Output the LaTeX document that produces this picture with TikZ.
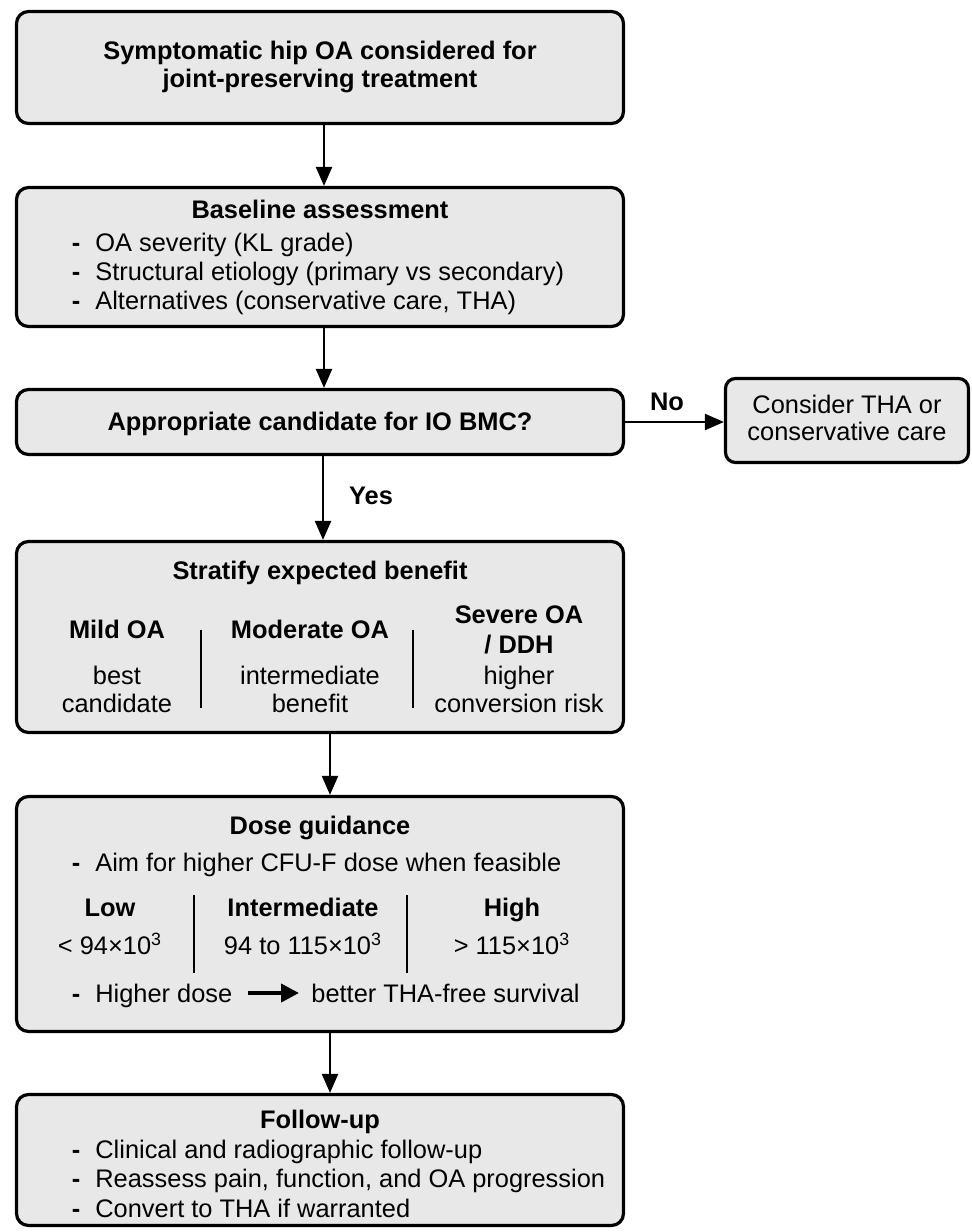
\documentclass[tikz,border=0pt]{standalone}
\usepackage{fontspec}
\setmainfont{Liberation Sans}
\usetikzlibrary{arrows.meta}
\definecolor{boxfill}{RGB}{232,232,232}
\newcommand\myfs{\fontsize{12.7pt}{15pt}\selectfont}
\begin{document}
\begin{tikzpicture}[x=0.5pt,y=-0.5pt,
  box/.style={draw, line width=1.6pt, rounded corners=6pt, fill=boxfill, inner sep=0},
  arr/.style={line width=1.15pt, -{Triangle[length=9.5pt,width=8pt]}},
  bigarr/.style={line width=2pt, -{Triangle[length=9pt,width=9pt]}},
  sepline/.style={line width=1.4pt},
  t/.style={inner sep=0, anchor=base, font=\myfs},
  tb/.style={inner sep=0, anchor=base, font=\myfs\bfseries},
  tl/.style={inner sep=0, anchor=base west, font=\myfs},
  bul/.style={inner sep=0, anchor=base, font=\myfs\bfseries}]
\fill[white] (0,0) rectangle (972,1232);
\useasboundingbox (0,0) rectangle (972,1232);

% boxes
\node[box, minimum width=303.5pt, minimum height=56pt] (b1) at (320,67.5) {};
\node[box, minimum width=303.5pt, minimum height=69.5pt] (b2) at (320,257) {};
\node[box, minimum width=303.5pt, minimum height=32.5pt] (b3) at (320,422) {};
\node[box, rounded corners=5pt, minimum width=121.5pt, minimum height=42pt] (b4) at (847,420.5) {};
\node[box, minimum width=303.5pt, minimum height=95.5pt] (b5) at (320,637) {};
\node[box, minimum width=303.5pt, minimum height=117.5pt] (b6) at (320,914) {};
\node[box, minimum width=303.5pt, minimum height=65.5pt] (b7) at (320,1160) {};

% box 1
\node[tb] (t1a) at (320,59) {Symptomatic hip OA considered for};
\node[tb] (t1b) at (320,87) {joint-preserving treatment};

% box 2
\node[tb] (t2) at (320,218) {Baseline assessment};
\node[bul] (d2a) at (76,251) {-};
\node[tl] (t2a) at (95,251) {OA severity (KL grade)};
\node[bul] (d2b) at (76,280) {-};
\node[tl] (t2b) at (95,280) {Structural etiology (primary vs secondary)};
\node[bul] (d2c) at (76,309) {-};
\node[tl] (t2c) at (95,309) {Alternatives (conservative care, THA)};

% box 3 and 4
\node[tb] (t3) at (320,430) {Appropriate candidate for IO BMC?};
\node[t] (t4a) at (847,413) {Consider THA or};
\node[t] (t4b) at (847,440) {conservative care};
\node[tb] (no) at (667,410) {No};
\node[tb] (yes) at (371,504) {Yes};

% box 5
\node[tb] (t5) at (320,579) {Stratify expected benefit};
\node[tb] (m1) at (117,638) {Mild OA};
\node[tb] (m2) at (310,638) {Moderate OA};
\node[tb] (m3a) at (519,623) {Severe OA};
\node[tb] (m3b) at (519,653) {/ DDH};
\node[t] (n1a) at (117,684) {best};
\node[t] (n1b) at (117,712) {candidate};
\node[t] (n2a) at (310,684) {intermediate};
\node[t] (n2b) at (310,712) {benefit};
\node[t] (n3a) at (519,684) {higher};
\node[t] (n3b) at (519,712) {conversion risk};
\draw[sepline] (201,630) -- (201,708);
\draw[sepline] (413,630) -- (413,708);

% box 6
\node[tb] (t6) at (320,834) {Dose guidance};
\node[bul] (d6a) at (76,871) {-};
\node[tl] (t6a) at (95,871) {Aim for higher CFU-F dose when feasible};
\node[tb] (l1) at (110,916) {Low};
\node[tb] (l2) at (303,916) {Intermediate};
\node[tb] (l3) at (512,916) {High};
\node[t] (v1) at (110,954) {< 94×10\textsuperscript{3}};
\node[t] (v2) at (303,954) {94 to 115×10\textsuperscript{3}};
\node[t] (v3) at (512,954) {> 115×10\textsuperscript{3}};
\draw[sepline] (194,895) -- (194,973);
\draw[sepline] (407,895) -- (407,973);
\node[bul] (d6b) at (76,1002) {-};
\node[tl] (hd) at (95,1002) {Higher dose};
\node[tl] (bt) at (311,1002) {better THA-free survival};
\draw[bigarr] ([shift={(15,-9)}]hd.base east) -- ([shift={(-12,-9)}]bt.base west);

% box 7
\node[tb] (t7) at (320,1128) {Follow-up};
\node[bul] (d7a) at (76,1158) {-};
\node[tl] (t7a) at (95,1158) {Clinical and radiographic follow-up};
\node[bul] (d7b) at (76,1187) {-};
\node[tl] (t7b) at (95,1187) {Reassess pain, function, and OA progression};
\node[bul] (d7c) at (76,1217) {-};
\node[tl] (t7c) at (95,1217) {Convert to THA if warranted};

% connectors
\draw[arr] ([xshift=2pt]b1.south) -- ([xshift=2pt]b2.north);
\draw[arr] ([xshift=2pt]b2.south) -- ([xshift=2pt]b3.north);
\draw[arr] ([xshift=1.5pt]b3.south) -- ([xshift=1.5pt]b5.north);
\draw[arr] ([xshift=5pt]b5.south) -- ([xshift=5pt]b6.north);
\draw[arr] ([xshift=5pt]b6.south) -- ([xshift=5pt]b7.north);
\draw[arr] (b3.east) -- (b3.east -| b4.west);
\end{tikzpicture}
\end{document}
